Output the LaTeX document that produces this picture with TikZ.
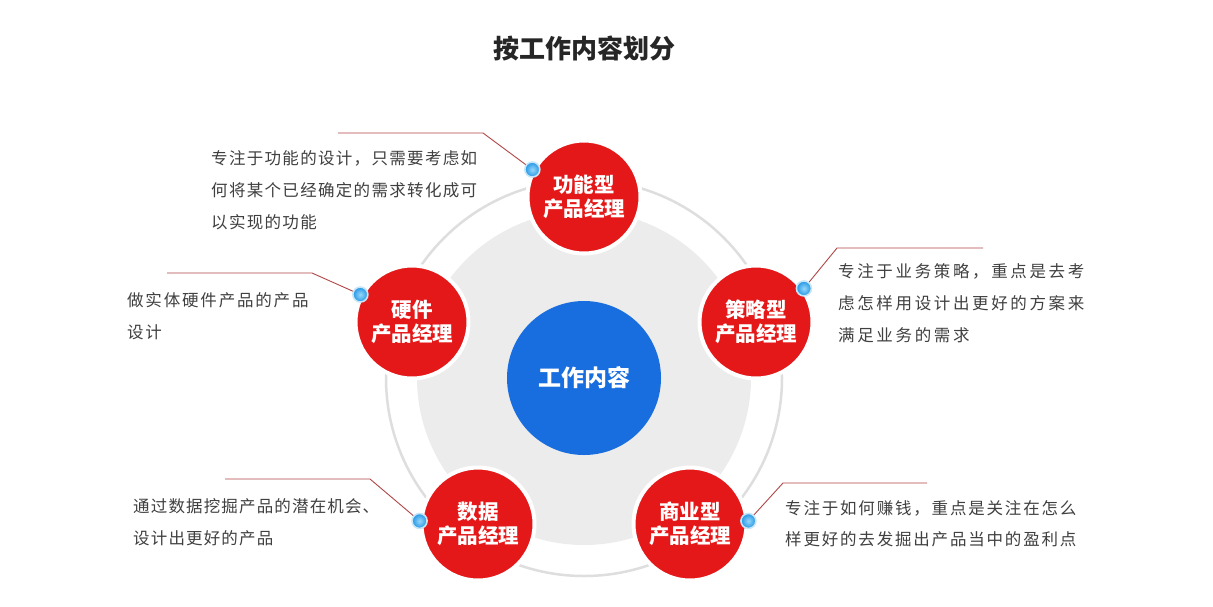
\documentclass[tikz,border=0pt]{standalone}
\usepackage{fontspec}
\newfontfamily\cjk{Noto Sans CJK SC}
\newfontfamily\cjkfn{Noto Sans CJK SC}[LetterSpace=8]
\newfontfamily\cjkst{Noto Sans CJK SC}[LetterSpace=16]
\newfontfamily\cjkbz{Noto Sans CJK SC}[LetterSpace=11]
\newfontfamily\cjkdt{Noto Sans CJK SC}[LetterSpace=7]
\definecolor{pmred}{RGB}{228,24,24}
\definecolor{coreblue}{RGB}{24,110,222}
\definecolor{ringgray}{RGB}{222,222,222}
\definecolor{diskgray}{RGB}{236,236,236}
\definecolor{leadred}{RGB}{178,70,70}
\definecolor{txtgray}{RGB}{64,64,64}
\definecolor{dotin}{RGB}{150,215,250}
\definecolor{dotout}{RGB}{35,150,228}
\definecolor{dotrim}{RGB}{200,230,248}
\begin{document}
\begin{tikzpicture}[x=1pt,y=-1pt,
  pm/.style={circle, fill=pmred, draw=white, line width=4pt, minimum size=113pt, inner sep=0pt,
    text=white, align=center, font=\cjk\bfseries\fontsize{20.5}{24}\selectfont},
  core/.style={circle, fill=coreblue, minimum size=154pt, inner sep=0pt, text=white,
    font=\cjk\bfseries\fontsize{23}{26}\selectfont},
  bead/.style={circle, minimum size=15pt, inner sep=0pt, shading=radial, inner color=dotin,
    outer color=dotout, draw=dotrim, line width=1.6pt},
  lead/.style={draw=leadred, line width=0.9pt},
  desc/.style={anchor=north west, inner sep=0pt, align=left, text=txtgray},
  titletext/.style={font=\cjk\bfseries\fontsize{26}{30}\selectfont, text=black!85}]
\useasboundingbox (0,0) rectangle (1213,606);
\fill[white] (0,0) rectangle (1213,606);

% title
\node[titletext] (title) at (584,48) {按工作内容划分};

% rings
\node[circle, draw=ringgray, line width=2.5pt, minimum size=396pt, inner sep=0pt] (ring) at (584,378) {};
\node[circle, fill=diskgray, minimum size=334pt, inner sep=0pt] (disk) at (584,378) {};

% core
\node[core] (core) at (584,378) {工作内容};

% product manager circles
\node[pm] (fn) at (584,197) {功能型\\产品经理};
\node[pm] (st) at (756,322) {策略型\\产品经理};
\node[pm] (bz) at (690,524) {商业型\\产品经理};
\node[pm] (dt) at (478,524) {数据\\产品经理};
\node[pm] (hw) at (412,322) {硬件\\产品经理};

% bead positions
\coordinate (dfn) at (fn.152);
\coordinate (dst) at (st.35);
\coordinate (dbz) at (bz.3);
\coordinate (ddt) at (dt.177);
\coordinate (dhw) at (hw.152);

% leader corners and ends
\coordinate (cfn) at (483,133); \coordinate (efn) at (338,133);
\coordinate (cst) at (837,248); \coordinate (est) at (983,248);
\coordinate (cbz) at (783,483); \coordinate (ebz) at (927,483);
\coordinate (cdt) at (370,479); \coordinate (edt) at (225,479);
\coordinate (chw) at (312,273); \coordinate (ehw) at (167,273);

\draw[lead] (dfn) -- (cfn) -- (efn);
\draw[lead] (dst) -- (cst) -- (est);
\draw[lead] (dbz) -- (cbz) -- (ebz);
\draw[lead] (ddt) -- (cdt) -- (edt);
\draw[lead] (dhw) -- (chw) -- (ehw);

\node[bead] (bfn) at (dfn) {};
\node[bead] (bst) at (dst) {};
\node[bead] (bbz) at (dbz) {};
\node[bead] (bdt) at (ddt) {};
\node[bead] (bhw) at (dhw) {};

% descriptions
\node[desc, font=\cjkfn\fontsize{16.5}{32}\selectfont] (tfn) at (211,150) {专注于功能的设计，只需要考虑如\\何将某个已经确定的需求转化成可\\以实现的功能};
\node[desc, font=\cjkst\fontsize{16.5}{32}\selectfont] (tst) at (838,263) {专注于业务策略，重点是去考\\虑怎样用设计出更好的方案来\\满足业务的需求};
\node[desc, font=\cjkbz\fontsize{16.5}{32}\selectfont] (thw) at (127,292) {做实体硬件产品的产品\\设计};
\node[desc, font=\cjkdt\fontsize{16.5}{32}\selectfont] (tdt) at (133,498) {通过数据挖掘产品的潜在机会、\\设计出更好的产品};
\node[desc, font=\cjkbz\fontsize{16.5}{31}\selectfont] (tbz) at (785,500) {专注于如何赚钱，重点是关注在怎么\\样更好的去发掘出产品当中的盈利点};
\end{tikzpicture}
\end{document}
